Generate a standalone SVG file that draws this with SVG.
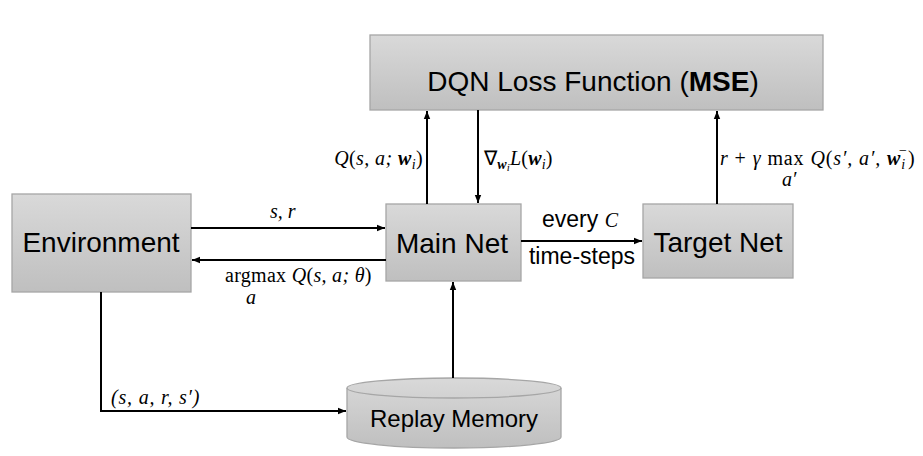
<svg xmlns="http://www.w3.org/2000/svg" width="923" height="456" viewBox="0 0 923 456">
<defs>
<linearGradient id="g" x1="0" y1="0" x2="0" y2="1">
<stop offset="0" stop-color="#d9d9d9"/>
<stop offset="1" stop-color="#bfbfbf"/>
</linearGradient>
<marker id="ah" viewBox="0 0 10 10" refX="10" refY="5" markerWidth="4" markerHeight="4" orient="auto" markerUnits="strokeWidth">
<path d="M0,1 L10,5 L0,9 z" fill="#000"/>
</marker>
<style>
.box{fill:url(#g);stroke:#a6a6a6;stroke-width:1.3}
.lbl{font-family:"Liberation Sans",Arial,sans-serif;fill:#000;text-anchor:middle}
.m{font-family:"Liberation Serif","Times New Roman",serif;font-style:italic;font-size:20px;fill:#000}
.r{font-style:normal}
.b{font-weight:bold}
.ln{stroke:#000;stroke-width:2;fill:none}
.ar{stroke:#000;stroke-width:2;fill:none;marker-end:url(#ah)}
</style>
</defs>
<rect width="923" height="456" fill="#fff"/>
<g id="loss">
<rect class="box" x="370" y="35" width="453" height="75"/>
<text class="lbl" x="593" y="91" font-size="28">DQN Loss Function (<tspan font-weight="bold">MSE</tspan>)</text>
</g>
<g id="environment">
<rect class="box" x="12" y="194" width="179" height="98"/>
<text class="lbl" x="101" y="252" font-size="28">Environment</text>
</g>
<g id="mainnet">
<rect class="box" x="386" y="204" width="135" height="77"/>
<text class="lbl" x="452" y="253" font-size="28">Main Net</text>
</g>
<g id="targetnet">
<rect class="box" x="643" y="204" width="150" height="74"/>
<text class="lbl" x="718" y="252" font-size="28">Target Net</text>
</g>
<g id="replay">
<path class="box" d="M347,388 A107,10 0 0 1 561,388 L561,437 A107,11 0 0 1 347,437 Z"/>
<path d="M347,388 A107,10 0 0 0 561,388" fill="none" stroke="#a6a6a6" stroke-width="1.3"/>
<text class="lbl" x="454" y="427" font-size="24">Replay Memory</text>
</g>
<g id="connectors">
<line class="ar" x1="427" y1="204" x2="427" y2="111"/>
<line class="ar" x1="478" y1="110" x2="478" y2="203"/>
<line class="ar" x1="717" y1="204" x2="717" y2="111"/>
<line class="ar" x1="191" y1="228" x2="385" y2="228"/>
<line class="ar" x1="386" y1="260" x2="192" y2="260"/>
<line class="ar" x1="521" y1="241" x2="642" y2="241"/>
<line class="ar" x1="453" y1="378" x2="453" y2="282"/>
<polyline class="ar" points="101,292 101,411 346,411"/>
</g>
<g id="labels">
<text class="m" x="423" y="165" text-anchor="end" font-size="21" letter-spacing="0.4">Q<tspan class="r">(</tspan>s, a; <tspan class="b">w</tspan><tspan font-size="14" dy="4">i</tspan><tspan class="r" dy="-4">)</tspan></text>
<text class="m" x="484" y="165" font-size="21" letter-spacing="0.2"><tspan class="r">∇</tspan><tspan font-size="14" dy="4" class="b">w</tspan><tspan font-size="11" dy="2">i</tspan><tspan dy="-6">L</tspan><tspan class="r">(</tspan><tspan class="b">w</tspan><tspan font-size="14" dy="4">i</tspan><tspan class="r" dy="-4">)</tspan></text>
<text class="m" x="720" y="165" letter-spacing="0.9">r <tspan class="r">+</tspan> γ <tspan class="r">max</tspan> Q<tspan class="r">(</tspan>s′, a′, <tspan class="b">w</tspan><tspan font-size="14" dy="4">i</tspan><tspan font-size="14" dx="-7" dy="-14" class="r">−</tspan><tspan class="r" dy="10">)</tspan></text>
<text class="m" x="782" y="186" font-size="15">a′</text>
<text class="m" x="270" y="218" font-size="24">s, r</text>
<text class="m" x="225" y="282" letter-spacing="0.3"><tspan class="r">argmax</tspan> Q<tspan class="r">(</tspan>s, a; θ<tspan class="r">)</tspan></text>
<text class="m" x="246" y="304" font-size="16">a</text>
<text class="lbl" x="580" y="227" font-size="23">every <tspan class="m" font-size="23">C</tspan></text>
<text class="lbl" x="582" y="264" font-size="23">time-steps</text>
<text class="m" x="111" y="404" font-size="24" letter-spacing="0.8">(s, a, r, s′)</text>
</g>
</svg>
